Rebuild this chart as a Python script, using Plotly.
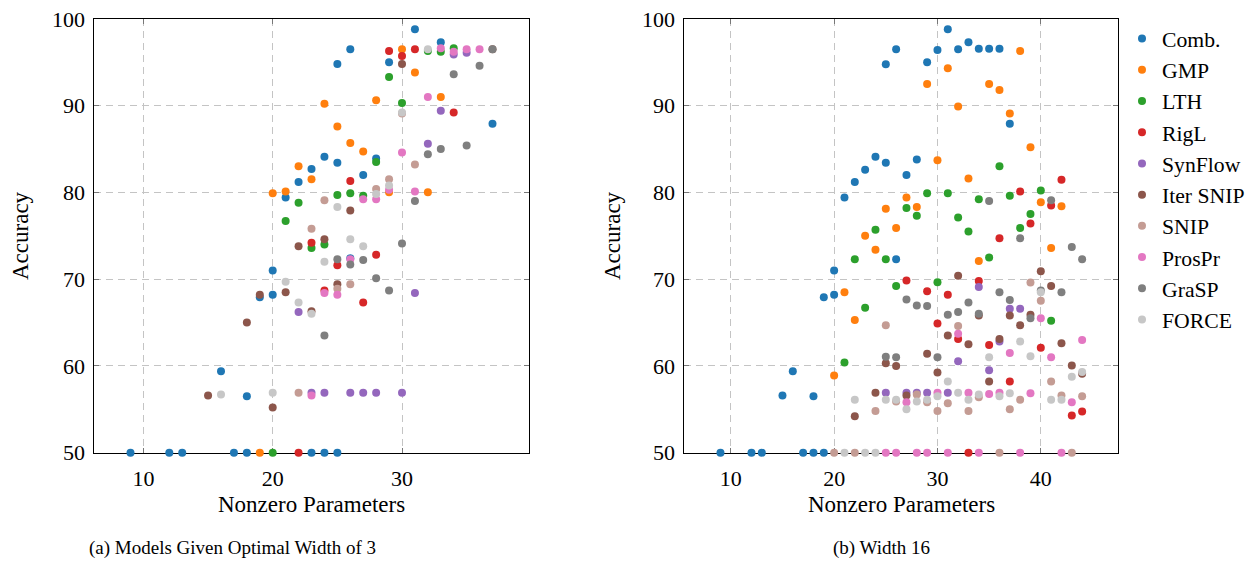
import plotly.graph_objects as go

# ---------------- data: (a) width 3 ----------------
comb_a_x = [9, 12, 13, 17, 18, 23, 24, 25, 16, 18, 19, 20, 20, 21, 22, 23, 24, 25, 25, 26, 27, 28, 29, 31, 33, 37, 26]
comb_a_y = [50, 50, 50, 50, 50, 50, 50, 50, 59.4, 56.5, 67.9, 68.2, 71.0, 79.4, 81.2, 82.7, 84.1, 83.4, 94.8, 96.5, 82.0, 83.9, 95.0, 98.8, 97.3, 87.9, 72.4]
gmp_a_x = [19, 20, 21, 22, 23, 24, 25, 26, 27, 28, 29, 30, 31, 32, 33]
gmp_a_y = [50, 79.9, 80.1, 83.0, 81.5, 90.2, 87.6, 85.7, 84.7, 90.6, 80.0, 96.5, 93.8, 80.0, 91.0]
lth_a_x = [20, 21, 22, 23, 24, 25, 26, 27, 28, 29, 30, 32, 33, 34]
lth_a_y = [50, 76.7, 78.8, 73.6, 74.0, 79.7, 79.9, 79.6, 83.5, 93.3, 90.3, 96.3, 96.2, 96.6]
rigl_a_x = [22, 23, 24, 25, 26, 27, 28, 29, 30, 31, 34]
rigl_a_y = [50, 74.2, 68.7, 71.6, 81.3, 67.3, 72.8, 96.3, 95.7, 96.5, 89.2]
synflow_a_x = [22, 23, 24, 26, 27, 28, 30, 31, 32, 33, 34, 35]
synflow_a_y = [66.2, 56.9, 56.9, 56.9, 56.9, 56.9, 56.9, 68.4, 85.6, 89.4, 95.9, 96.1]
itersnip_a_x = [15, 18, 19, 20, 21, 22, 23, 24, 25, 26, 30, 37]
itersnip_a_y = [56.6, 65.0, 68.2, 55.2, 68.5, 73.8, 66.3, 74.6, 69.4, 77.9, 94.8, 96.5]
snip_a_x = [22, 23, 24, 25, 26, 28, 29, 30, 31]
snip_a_y = [56.9, 75.8, 79.1, 68.9, 69.4, 80.4, 81.5, 89.1, 83.2]
prospr_a_x = [23, 24, 25, 26, 27, 28, 29, 30, 31, 32, 33, 34, 35, 36]
prospr_a_y = [56.6, 68.4, 68.2, 72.3, 79.2, 79.2, 80.3, 84.6, 80.1, 91.0, 96.6, 96.2, 96.5, 96.5]
grasp_a_x = [24, 25, 26, 27, 28, 29, 30, 31, 32, 33, 34, 35, 36, 37]
grasp_a_y = [63.5, 72.3, 71.7, 72.2, 70.1, 68.7, 74.1, 79.0, 84.4, 85.0, 93.6, 85.4, 94.6, 96.5]
force_a_x = [16, 20, 21, 22, 23, 24, 25, 26, 27, 28, 29, 30, 32]
force_a_y = [56.7, 56.9, 69.7, 67.3, 66.0, 72.0, 78.3, 74.6, 73.8, 79.8, 80.8, 89.2, 96.5]

# ---------------- data: (b) width 16 ----------------
comb_b_x = [9, 12, 13, 17, 18, 19, 15, 16, 18, 19, 20, 20, 21, 22, 23, 24, 25, 25, 26, 26, 27, 28, 29, 30, 31, 32, 33, 34, 35, 36, 37]
comb_b_y = [50, 50, 50, 50, 50, 50, 56.6, 59.4, 56.5, 67.9, 68.2, 71.0, 79.4, 81.2, 82.6, 84.1, 83.4, 94.75, 96.5, 72.3, 82.0, 83.8, 95.0, 96.4, 98.8, 96.5, 97.3, 96.55, 96.55, 96.55, 87.9]
gmp_b_x = [20, 21, 22, 23, 24, 25, 26, 27, 28, 29, 30, 31, 32, 33, 34, 35, 36, 37, 38, 39, 40, 41, 42]
gmp_b_y = [58.9, 68.5, 65.3, 75.0, 73.4, 78.1, 75.9, 79.4, 78.3, 92.5, 83.7, 94.3, 89.9, 81.6, 72.1, 92.5, 91.8, 89.1, 96.3, 85.2, 78.85, 73.6, 78.4]
lth_b_x = [21, 22, 23, 24, 25, 26, 27, 28, 29, 30, 31, 32, 33, 34, 35, 36, 37, 38, 39, 40, 41]
lth_b_y = [60.4, 72.3, 66.7, 75.7, 72.3, 69.2, 78.2, 77.3, 79.9, 69.65, 79.9, 77.1, 75.5, 79.2, 72.5, 83.0, 79.6, 75.9, 77.5, 80.2, 65.2]
rigl_b_x = [27, 29, 30, 31, 32, 33, 34, 35, 36, 37, 38, 39, 40, 41, 42, 43, 44]
rigl_b_y = [69.85, 68.6, 64.9, 68.2, 63.1, 50, 69.8, 62.4, 74.7, 58.2, 80.1, 76.4, 62.1, 78.5, 81.45, 54.3, 54.75]
synflow_b_x = [25, 27, 28, 29, 31, 32, 34, 35, 36, 37, 38]
synflow_b_y = [56.9, 56.9, 56.9, 56.9, 56.9, 60.55, 69.1, 59.5, 62.8, 66.6, 66.6]
itersnip_b_x = [22, 24, 25, 26, 27, 29, 30, 31, 32, 33, 34, 35, 36, 37, 38, 39, 40, 41, 42, 43, 44]
itersnip_b_y = [54.2, 56.9, 60.3, 60.0, 56.6, 61.4, 59.25, 63.5, 70.4, 62.5, 65.8, 58.2, 63.1, 65.8, 64.7, 65.9, 70.9, 69.2, 62.6, 60.05, 59.1]
snip_b_x = [20, 22, 24, 25, 26, 28, 29, 30, 31, 32, 33, 34, 36, 37, 38, 39, 40, 41, 42, 43, 44]
snip_b_y = [50, 50, 54.8, 64.7, 55.9, 56.7, 55.8, 54.8, 55.7, 64.6, 54.8, 56.4, 50, 55.0, 56.1, 69.6, 67.5, 58.2, 56.6, 50, 56.5]
prospr_b_x = [25, 26, 28, 29, 31, 34, 38, 42, 27, 30, 32, 33, 35, 36, 37, 39, 40, 41, 43, 44]
prospr_b_y = [50, 50, 50, 50, 50, 50, 50, 50, 55.8, 56.9, 63.7, 56.9, 56.75, 56.9, 61.5, 56.85, 65.5, 61.0, 55.8, 63.0]
grasp_b_x = [25, 26, 27, 28, 29, 30, 31, 32, 33, 34, 35, 36, 37, 38, 39, 40, 41, 42, 43, 44]
grasp_b_y = [61.05, 61.0, 67.65, 66.95, 66.9, 61.0, 65.9, 66.2, 67.3, 66.0, 79.0, 68.5, 67.6, 74.7, 65.5, 68.7, 79.1, 68.5, 73.7, 72.3]
force_b_x = [21, 23, 24, 22, 25, 26, 27, 28, 29, 30, 31, 32, 33, 34, 35, 36, 37, 38, 39, 40, 41, 42, 43, 44]
force_b_y = [50, 50, 50, 56.1, 56.1, 56.1, 55.0, 55.9, 56.1, 56.5, 58.2, 56.9, 56.1, 56.7, 61.0, 56.5, 56.85, 62.8, 61.1, 68.5, 56.1, 56.1, 58.75, 59.3]

methods = ["Comb.", "GMP", "LTH", "RigL", "SynFlow", "Iter SNIP", "SNIP", "ProsPr", "GraSP", "FORCE"]
colors = ["#1f77b4", "#ff7f0e", "#2ca02c", "#d62728", "#9467bd", "#8c564b", "#c49c94", "#e377c2", "#7f7f7f", "#c7c7c7"]

data_a = [(comb_a_x, comb_a_y), (gmp_a_x, gmp_a_y), (lth_a_x, lth_a_y), (rigl_a_x, rigl_a_y),
          (synflow_a_x, synflow_a_y), (itersnip_a_x, itersnip_a_y), (snip_a_x, snip_a_y),
          (prospr_a_x, prospr_a_y), (grasp_a_x, grasp_a_y), (force_a_x, force_a_y)]
data_b = [(comb_b_x, comb_b_y), (gmp_b_x, gmp_b_y), (lth_b_x, lth_b_y), (rigl_b_x, rigl_b_y),
          (synflow_b_x, synflow_b_y), (itersnip_b_x, itersnip_b_y), (snip_b_x, snip_b_y),
          (prospr_b_x, prospr_b_y), (grasp_b_x, grasp_b_y), (force_b_x, force_b_y)]

SERIF = "Liberation Serif"
fig = go.Figure()
for name, col, (x, y) in zip(methods, colors, data_a):
    fig.add_trace(go.Scatter(x=x, y=y, mode="markers", name=name, legendgroup=name,
                             marker=dict(color=col, size=8), cliponaxis=False,
                             xaxis="x", yaxis="y", showlegend=False))
for name, col, (x, y) in zip(methods, colors, data_b):
    fig.add_trace(go.Scatter(x=x, y=y, mode="markers", name=name, legendgroup=name,
                             marker=dict(color=col, size=8), cliponaxis=False,
                             xaxis="x2", yaxis="y2", showlegend=True))

ydom = [1 - 452.7 / 563, 1 - 18.8 / 563]
common = dict(showline=True, linecolor="black", linewidth=1, mirror="ticks",
              ticks="inside", ticklen=5, tickcolor="#777777",
              showgrid=True, gridcolor="#c4c4c4", gridwidth=1, griddash="7px,5px",
              zeroline=False, layer="below traces", automargin=False,
              tickfont=dict(family=SERIF, size=22, color="black"))

fig.update_layout(
    width=1254, height=563,
    margin=dict(l=0, r=0, t=0, b=0, autoexpand=False),
    paper_bgcolor="white", plot_bgcolor="white",
    xaxis=dict(domain=[94.3 / 1254, 528.7 / 1254], range=[6.2, 39.8], tickvals=[10, 20, 30],
               anchor="y", ticklabelstandoff=6, **common),
    yaxis=dict(domain=ydom, range=[50, 100], tickvals=[50, 60, 70, 80, 90, 100],
               anchor="x", ticklabelstandoff=4, **common),
    xaxis2=dict(domain=[684.3 / 1254, 1118.3 / 1254], range=[5.5, 47.5], tickvals=[10, 20, 30, 40],
                anchor="y2", ticklabelstandoff=6, **common),
    yaxis2=dict(domain=ydom, range=[50, 100], tickvals=[50, 60, 70, 80, 90, 100],
                anchor="x2", ticklabelstandoff=4, **common),
    legend=dict(x=1122 / 1254, y=1 - 18 / 563, xanchor="left", yanchor="top",
                font=dict(family=SERIF, size=21.7, color="black"),
                bgcolor="rgba(0,0,0,0)", borderwidth=0, tracegroupgap=0),
    showlegend=True,
)

ann = [
    dict(text="Nonzero Parameters", x=311.5 / 1254, y=1 - 505 / 563),
    dict(text="Nonzero Parameters", x=901.3 / 1254, y=1 - 505 / 563),
    dict(text="Accuracy", x=20 / 1254, y=1 - 236 / 563, textangle=-90),
    dict(text="Accuracy", x=612 / 1254, y=1 - 236 / 563, textangle=-90),
]
for a in ann:
    fig.add_annotation(xref="paper", yref="paper", showarrow=False, xanchor="center", yanchor="middle",
                       font=dict(family=SERIF, size=23, color="black"), **a)
fig.add_annotation(text="(a) Models Given Optimal Width of 3", x=232 / 1254, y=1 - 548 / 563,
                   xref="paper", yref="paper", showarrow=False, xanchor="center", yanchor="middle",
                   font=dict(family=SERIF, size=19, color="black"))
fig.add_annotation(text="(b) Width 16", x=881 / 1254, y=1 - 548 / 563,
                   xref="paper", yref="paper", showarrow=False, xanchor="center", yanchor="middle",
                   font=dict(family=SERIF, size=19, color="black"))

fig.write_html("out.html")
